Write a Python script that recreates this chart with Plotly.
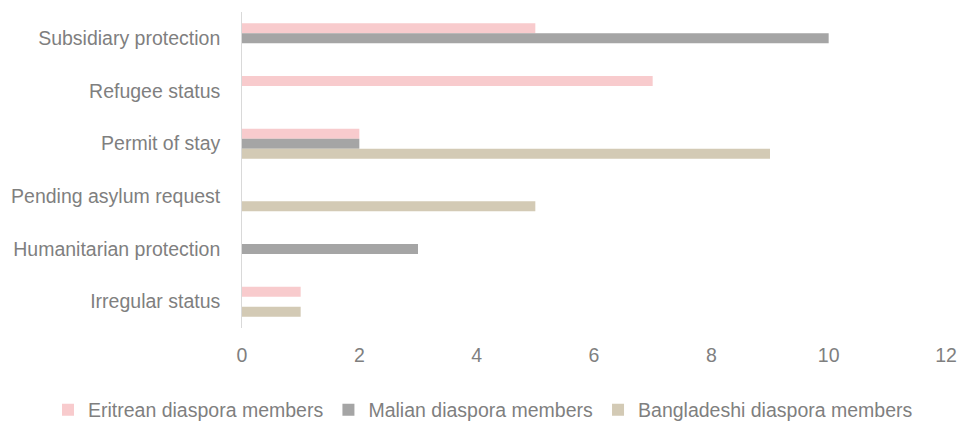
import plotly.graph_objects as go

categories = ["Subsidiary protection", "Refugee status", "Permit of stay",
              "Pending asylum request", "Humanitarian protection", "Irregular status"]
series_names = ["Eritrean diaspora members", "Malian diaspora members", "Bangladeshi diaspora members"]
eritrean = [5, 7, 2, 0, 0, 1]
malian = [10, 0, 2, 0, 3, 0]
bangladeshi = [0, 0, 9, 5, 0, 1]
colors = ["#F8CBCD", "#A5A5A5", "#D3CAB5"]
x_ticks = [0, 2, 4, 6, 8, 10, 12]

FONT = "Liberation Sans Narrow, Arial Narrow, Liberation Sans, Arial, sans-serif"
TXT = "#7F7F7F"
FS = 19.5

fig = go.Figure()
for name, vals, col in zip(series_names, [eritrean, malian, bangladeshi], colors):
    fig.add_trace(go.Bar(y=categories, x=vals, name=name, orientation="h",
                         marker=dict(color=col, line=dict(width=0))))

W, H = 959, 423
ML, MR, MT, MB = 242, 13, 12, 95
pw = W - ML - MR
ph = H - MT - MB

fig.update_layout(
    width=W, height=H,
    barmode="group", bargap=0.43, bargroupgap=0,
    plot_bgcolor="white", paper_bgcolor="white",
    margin=dict(l=ML, r=MR, t=MT, b=MB, autoexpand=False),
    font=dict(family=FONT, size=FS, color=TXT),
    xaxis=dict(range=[0, 12], tickvals=x_ticks, showgrid=False, zeroline=False,
               showline=False, ticks="outside", ticklen=10, tickcolor="rgba(0,0,0,0)",
               tickfont=dict(size=FS, color=TXT), automargin=False,
               ticklabeloverflow="allow"),
    yaxis=dict(autorange="reversed", showgrid=False, zeroline=False, showline=True,
               linecolor="#D9D9D9", linewidth=1, ticks="outside", ticklen=6,
               tickcolor="rgba(0,0,0,0)", ticksuffix="  ",
               tickfont=dict(size=FS, color=TXT), automargin=False),
    legend=dict(orientation="h", xref="paper", yref="paper",
                x=(48 - ML) / pw, xanchor="left",
                y=(ph - (410 - MT)) / ph, yanchor="middle",
                font=dict(size=FS, color=TXT), itemwidth=30,
                traceorder="normal", bgcolor="rgba(0,0,0,0)"),
)

fig.write_html("out.html", config={"displayModeBar": False},
               post_script="document.body.style.margin='0';document.body.style.overflow='hidden';")
